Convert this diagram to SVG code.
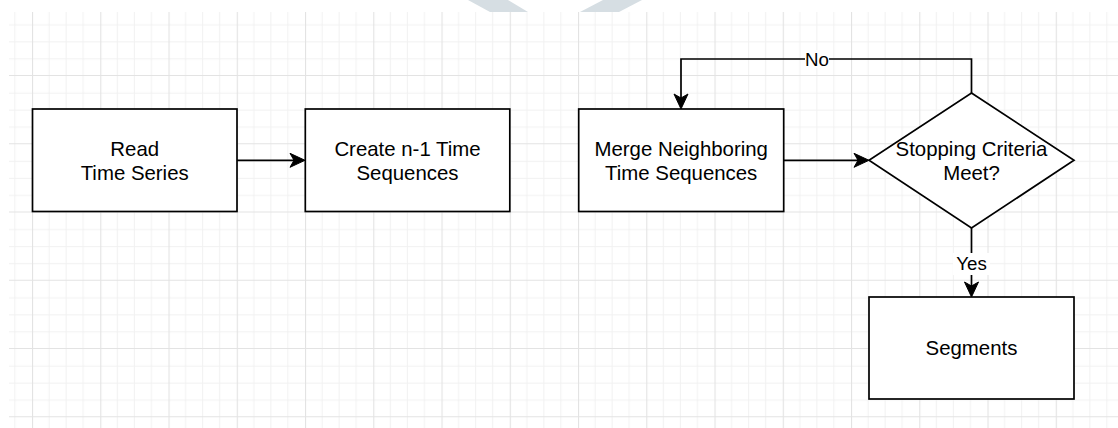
<svg xmlns="http://www.w3.org/2000/svg" width="1118" height="428" viewBox="0 0 1118 428">
  <style>
    .box { fill: #ffffff; stroke: #000000; stroke-width: 1.7; }
    .edge { fill: none; stroke: #000000; stroke-width: 1.7; }
    .txt { font-family: "Liberation Sans", Arial, Helvetica, sans-serif; font-size: 20.4px; fill: #000000; text-anchor: middle; }
    .lbl { font-family: "Liberation Sans", Arial, Helvetica, sans-serif; font-size: 18.7px; fill: #000000; text-anchor: middle; }
    .lblbg { fill: #ffffff; stroke: none; }
  </style>
  <defs>
    <!-- background grid: major cell 68.25px split into 4 minor cells -->
    <pattern id="gridCell" patternUnits="userSpaceOnUse" x="32" y="7.75" width="68.25" height="68.25">
      <path d="M17.06 0V68.25M34.12 0V68.25M51.19 0V68.25M0 17.06H68.25M0 34.12H68.25M0 51.19H68.25" fill="none" stroke="#f1f1f1" stroke-width="1"/>
      <path d="M0.5 0V68.25M0 67.75H68.25" fill="none" stroke="#e3e3e3" stroke-width="1.2"/>
    </pattern>
    <!-- classic filled arrowhead; the line stops at the notch -->
    <marker id="arrow" viewBox="-5 -8 17 16" refX="0" refY="0" markerWidth="17" markerHeight="16" markerUnits="userSpaceOnUse" orient="auto">
      <path d="M-4,-7 L11,0 L-4,7 L0,0 Z" fill="#000000" stroke="#000000" stroke-width="1"/>
    </marker>
  </defs>

  <rect x="0" y="0" width="1118" height="428" fill="#ffffff"/>

  <!-- faint banner shapes along the top edge -->
  <g id="banner" fill="#d6dee3">
    <polygon points="468,0 508,0 528,12 490,12"/>
    <polygon points="603,0 642,0 619,12 580,12"/>
  </g>

  <g id="grid">
    <rect x="9" y="12" width="1109" height="416" fill="#ffffff"/>
    <rect x="9" y="12" width="1109" height="416" fill="url(#gridCell)"/>
  </g>

  <g id="connectors">
    <!-- Read -> Create -->
    <path class="edge" d="M237 160.3H294" marker-end="url(#arrow)"/>
    <!-- Merge -> Decision -->
    <path class="edge" d="M783.7 160.3H858" marker-end="url(#arrow)"/>
    <!-- Decision (No) -> Merge -->
    <path class="edge" d="M971.5 93V59H681V98" marker-end="url(#arrow)"/>
    <!-- Decision (Yes) -> Segments -->
    <path class="edge" d="M971.5 228V286" marker-end="url(#arrow)"/>
    <g id="edge-labels">
      <rect class="lblbg" x="805" y="50" width="24" height="18"/>
      <text class="lbl" x="817" y="65.7">No</text>
      <rect class="lblbg" x="953" y="253" width="37" height="22"/>
      <text class="lbl" x="971.5" y="270">Yes</text>
    </g>
  </g>

  <g id="node-read">
    <rect class="box" x="32.5" y="109" width="204.5" height="102.5"/>
    <text class="txt" x="134.7" y="156.3">Read</text>
    <text class="txt" x="134.7" y="180.3">Time Series</text>
  </g>

  <g id="node-create">
    <rect class="box" x="305.3" y="109" width="204.5" height="102.5"/>
    <text class="txt" x="407.5" y="156.3">Create n-1 Time</text>
    <text class="txt" x="407.5" y="180.3">Sequences</text>
  </g>

  <g id="node-merge">
    <rect class="box" x="578.7" y="109" width="205" height="102.5"/>
    <text class="txt" x="681.2" y="156.3">Merge Neighboring</text>
    <text class="txt" x="681.2" y="180.3">Time Sequences</text>
  </g>

  <g id="node-decision">
    <polygon class="box" points="971.5,93 1074,160.3 971.5,228 869,160.3"/>
    <text class="txt" x="971.5" y="156.3">Stopping Criteria</text>
    <text class="txt" x="971.5" y="180.3">Meet?</text>
  </g>

  <g id="node-segments">
    <rect class="box" x="869" y="297" width="205" height="102"/>
    <text class="txt" x="971.5" y="355">Segments</text>
  </g>
</svg>
